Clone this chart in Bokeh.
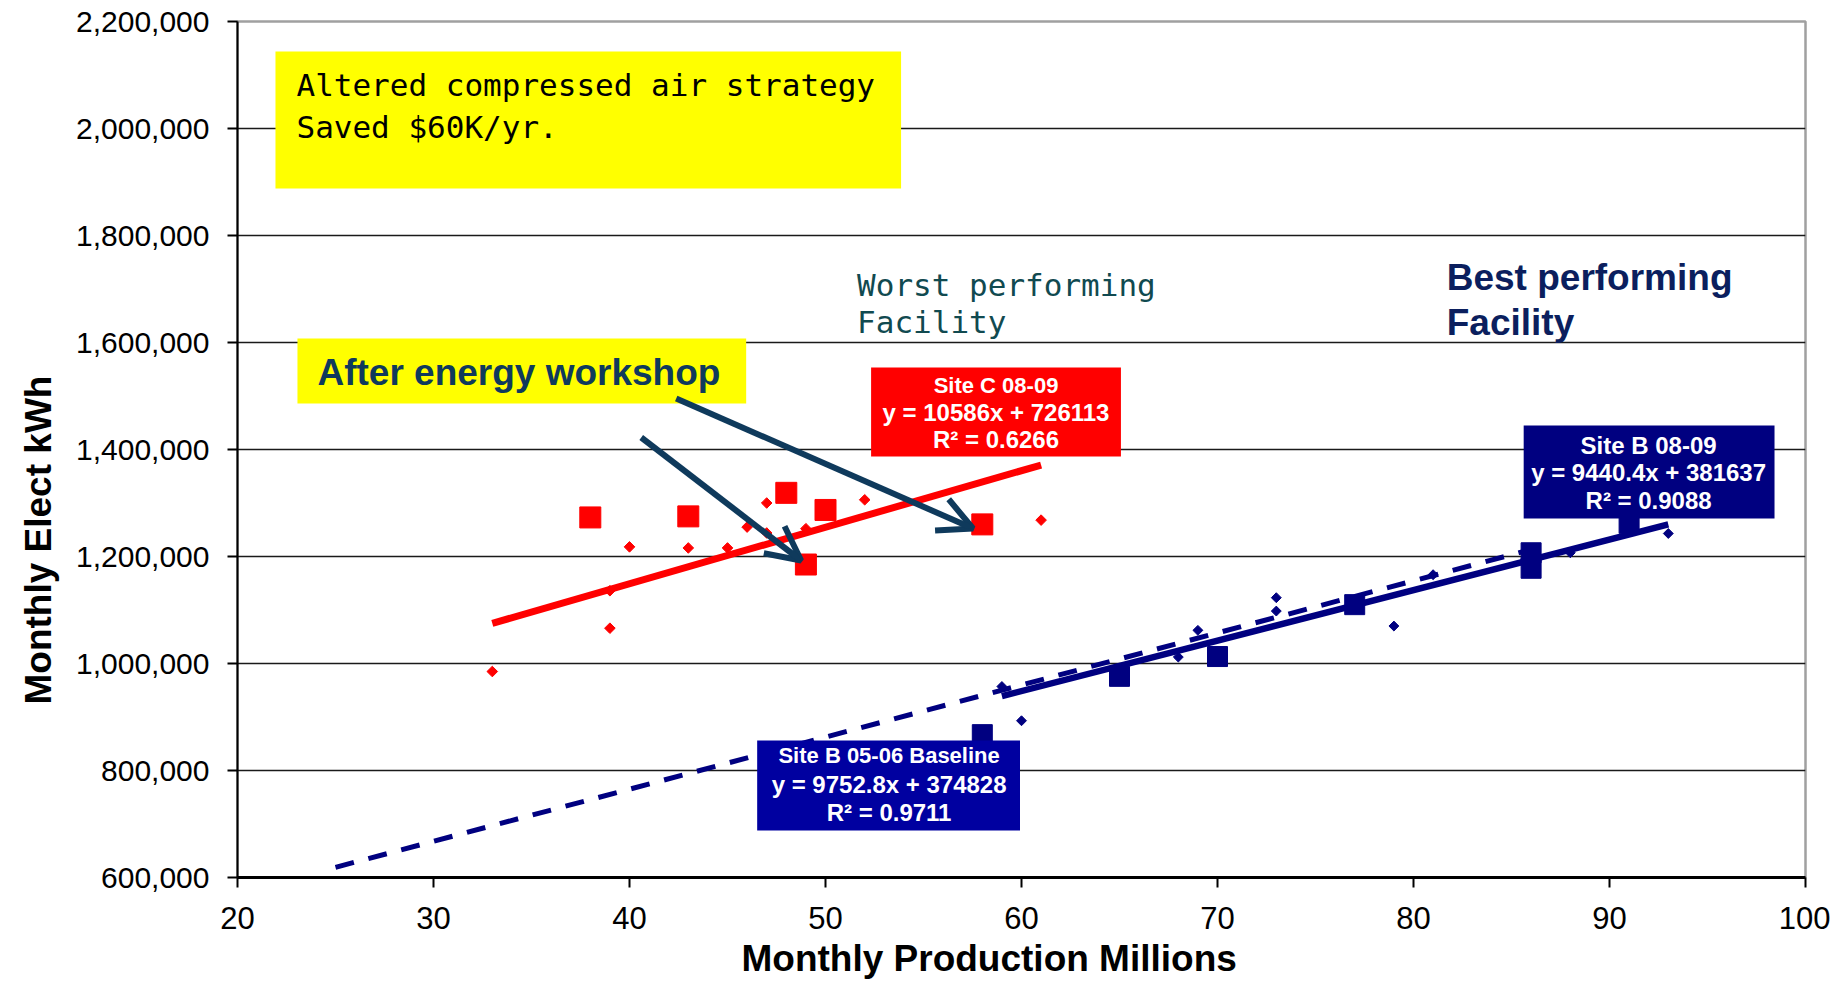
import math
from bokeh.plotting import figure
from bokeh.models import Range1d, FixedTicker, NumeralTickFormatter, BoxAnnotation, Label, Arrow, OpenHead, Title
from bokeh.embed import file_html
from bokeh.resources import INLINE

# ---------------- data ----------------
x_ticks = [20, 30, 40, 50, 60, 70, 80, 90, 100]
y_ticks = [600000, 800000, 1000000, 1200000, 1400000, 1600000, 1800000, 2000000, 2200000]

# Site C (worst performing) - large squares and small diamonds
site_c_sq_x = [38, 43, 48, 50, 49, 58]
site_c_sq_y = [1273000, 1275000, 1319000, 1287000, 1185000, 1260000]
site_c_dm_x = [33, 39, 39, 40, 43, 45, 46, 47, 47, 49, 52, 61]
site_c_dm_y = [985000, 1066000, 1136000, 1218000, 1216000, 1216000, 1255000, 1300000, 1244000, 1252000, 1306000, 1268000]

# Site B (best performing) - large squares and small diamonds
site_b_sq_x = [58, 65, 70, 77, 86, 86, 91]
site_b_sq_y = [867000, 976000, 1013000, 1110000, 1207000, 1178000, 1262000]
site_b_dm_x = [59, 60, 68, 69, 73, 73, 79, 81, 88, 93]
site_b_dm_y = [957000, 893000, 1012000, 1062000, 1123000, 1098000, 1070000, 1166000, 1207000, 1243000]

# Trend lines (end points)
c_fit_x = [33, 61]
c_fit_y = [1075000, 1371000]
b_fit_x = [59, 93]
b_fit_y = [939000, 1260000]
base_fit_x = [25, 86]
base_fit_y = [619000, 1213000]

# ---------------- layout helpers (reference pixels -> data) ----------------
FL, FR, FT, FB = 236, 1805, 21, 877


def dx(px):
    return 20 + (px - FL) / (FR - FL) * 80


def dy(py):
    return 600000 + (FB - py) / (FB - FT) * 1600000


RED = "#ff0000"
NAVY = "#000080"
ARROW = "#0f3a5c"

p = figure(width=1830, height=982, x_range=Range1d(20, 100), y_range=Range1d(600000, 2200000),
           output_backend="svg", toolbar_location=None,
           min_border_left=236, min_border_right=25, min_border_top=21, min_border_bottom=105)
p.background_fill_color = "white"
p.border_fill_color = "white"
p.outline_line_color = "#a0a0a0"
p.outline_line_width = 2.5

p.xgrid.visible = False
p.ygrid.ticker = FixedTicker(ticks=y_ticks[1:-1])
p.ygrid.grid_line_color = "#1a1a1a"
p.ygrid.grid_line_width = 1.3

for ax in (p.xaxis[0], p.yaxis[0]):
    ax.axis_line_color = "black"
    ax.major_tick_line_color = "black"
    ax.major_tick_line_width = 2
    ax.major_tick_out = 10
    ax.major_tick_in = 0
    ax.minor_tick_out = 0
    ax.minor_tick_in = 0
    ax.major_label_text_font = "Liberation Sans"
    ax.major_label_text_color = "black"

p.xaxis.ticker = FixedTicker(ticks=x_ticks)
p.xaxis.axis_line_width = 3
p.xaxis.major_label_text_font_size = "31px"
p.xaxis.major_label_standoff = 19

p.yaxis.ticker = FixedTicker(ticks=y_ticks)
p.yaxis.formatter = NumeralTickFormatter(format="0,0")
p.yaxis.axis_line_width = 2
p.yaxis.major_label_text_font_size = "30px"
p.yaxis.major_label_standoff = 18

# axis titles
p.add_layout(Title(text="Monthly Production Millions", align="left", offset=504, standoff=8,
                   text_font="Liberation Sans", text_font_size="37px", text_font_style="bold",
                   text_color="black"), "below")
p.add_layout(Title(text="Monthly Elect kWh", align="left", offset=173, standoff=30,
                   text_font="Liberation Sans", text_font_size="37px", text_font_style="bold",
                   text_color="black"), "left")

# ---------------- glyphs ----------------
p.line(base_fit_x, base_fit_y, line_color=NAVY, line_width=5, line_dash="19 15")
p.line(b_fit_x, b_fit_y, line_color=NAVY, line_width=6.5)
p.line(c_fit_x, c_fit_y, line_color=RED, line_width=7)

p.scatter(site_c_dm_x, site_c_dm_y, marker="square", angle=math.pi / 4, size=7.5, color=RED)
p.scatter(site_c_sq_x, site_c_sq_y, marker="square", size=21, color=RED)
p.scatter(site_b_dm_x, site_b_dm_y, marker="square", angle=math.pi / 4, size=7, color=NAVY)
p.scatter(site_b_sq_x, site_b_sq_y, marker="square", size=20, color=NAVY)


# ---------------- annotations ----------------
def box(l, t, r, b, color):
    p.add_layout(BoxAnnotation(left=dx(l), right=dx(r), top=dy(t), bottom=dy(b),
                               fill_color=color, fill_alpha=1, line_color=None))


MONO = "DejaVu Sans Mono"


def lab(text, px, py, size, color, font="Liberation Sans", style="normal", align="left", shift=8):
    p.add_layout(Label(x=dx(px), y=dy(py - shift), text=text, text_font=font, text_font_size=f"{size}px",
                       text_font_style=style, text_color=color, text_align=align,
                       text_baseline="alphabetic"))


box(274, 51, 900, 188, "#ffff00")
lab("Altered compressed air strategy", 295, 98, 31, "black", font=MONO, shift=14)
lab("Saved $60K/yr.", 295, 140, 31, "black", font=MONO, shift=14)

lab("Worst performing", 856, 298, 31, "#114a50", font=MONO, shift=14)
lab("Facility", 856, 335, 31, "#114a50", font=MONO, shift=14)

lab("Best performing", 1446, 288, 37, "#0b1f5e", style="bold", shift=11)
lab("Facility", 1446, 333, 37, "#0b1f5e", style="bold", shift=11)

box(296, 338, 745, 403, "#ffff00")
lab("After energy workshop", 316, 383, 37, ARROW, style="bold", shift=11)

box(870, 367, 1120, 456, RED)
lab("Site C 08-09", 995, 393, 22, "white", style="bold", align="center")
lab("y = 10586x + 726113", 995, 420, 24, "white", style="bold", align="center")
lab("R² = 0.6266", 995, 447, 24, "white", style="bold", align="center")

box(1523, 425, 1774, 518, NAVY)
lab("Site B 08-09", 1648, 453, 24, "white", style="bold", align="center")
lab("y = 9440.4x + 381637", 1648, 480, 24, "white", style="bold", align="center")
lab("R² = 0.9088", 1648, 508, 24, "white", style="bold", align="center")

box(756, 740, 1019, 830, "#0000a0")
lab("Site B 05-06 Baseline", 888, 763, 22, "white", style="bold", align="center")
lab("y = 9752.8x + 374828", 888, 792, 24, "white", style="bold", align="center")
lab("R² = 0.9711", 888, 820, 24, "white", style="bold", align="center")

p.add_layout(Arrow(x_start=dx(640), y_start=dy(437), x_end=dx(800), y_end=dy(560),
                   line_color=ARROW, line_width=6,
                   end=OpenHead(size=34, line_color=ARROW, line_width=6)))
p.add_layout(Arrow(x_start=dx(675), y_start=dy(398), x_end=dx(972), y_end=dy(528),
                   line_color=ARROW, line_width=6,
                   end=OpenHead(size=34, line_color=ARROW, line_width=6)))

open("out.html", "w").write(file_html(p, INLINE))
